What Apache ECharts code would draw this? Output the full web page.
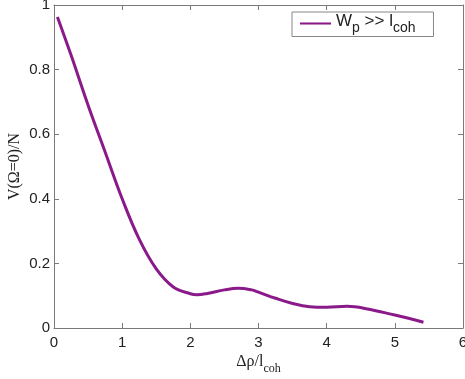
<!DOCTYPE html>
<html>
<head>
<meta charset="utf-8">
<script src="https://cdn.jsdelivr.net/npm/echarts@6/dist/echarts.min.js"></script>
<style>html,body{margin:0;padding:0;background:#fff;}#c{width:465px;height:379px;}</style>
</head>
<body>
<div id="c"></div>
<script>
const xValues = [0.05,0.25,0.5,0.75,1.0,1.25,1.5,1.75,2.0,2.1,2.25,2.5,2.7,2.9,3.0,3.25,3.5,3.75,4.0,4.3,4.6,5.0,5.2,5.42];
const yValues = [0.963,0.845,0.69,0.545,0.40,0.275,0.183,0.127,0.106,0.103,0.107,0.118,0.123,0.118,0.111,0.092,0.076,0.066,0.064,0.067,0.059,0.040,0.030,0.018];
const seriesName = 'Wp >> lcoh';
const xTicks = [0,1,2,3,4,5,6];
const yTicks = [0,0.2,0.4,0.6,0.8,1];

const axisGray = '#7a7a7a';
const labelFont = {fontFamily:'Liberation Sans, Arial, sans-serif', fontSize:15, color:'#222'};
const chart = echarts.init(document.getElementById('c'), null, {renderer:'canvas'});
const pts = xValues.map((x,i)=>[x,yValues[i]]);
const baseAxis = {
  axisLine:{show:true,onZero:false,lineStyle:{color:axisGray,width:1}},
  axisTick:{show:true,inside:true,length:5,lineStyle:{color:axisGray}},
  splitLine:{show:false}
};
chart.setOption({
  animation:false,
  grid:{left:54,right:2,top:5,bottom:51,containLabel:false,outerBoundsMode:'none'},
  legend:{
    show:true,
    left:292,top:12,
    orient:'horizontal',
    backgroundColor:'#fff',
    borderColor:'#888',borderWidth:1,borderRadius:0,
    padding:[1,18,1,8],
    itemWidth:31,itemHeight:10,itemGap:8,
    icon:'path://M0,4 L30,4 L30,6 L0,6 Z',
    data:[{name:seriesName,itemStyle:{color:'#8a1a8a'}}],
    formatter:()=>'{a|W}{s|p}{a| >> l}{s|coh}',
    textStyle:{
      rich:{
        a:{fontFamily:'Liberation Sans, Arial, sans-serif',fontSize:17,color:'#222',padding:[0,0,4,0]},
        s:{fontFamily:'Liberation Sans, Arial, sans-serif',fontSize:14,color:'#222',verticalAlign:'bottom',padding:[10,0,0,0]}
      }
    }
  },
  xAxis:[
    Object.assign({}, baseAxis, {
      type:'value',min:xTicks[0],max:xTicks[xTicks.length-1],interval:1,position:'bottom',
      axisLabel:Object.assign({margin:7},labelFont),
      name:'{a|Δρ/l}{s|coh}',nameLocation:'middle',nameGap:21,nameMoveOverlap:false,
      nameTextStyle:{rich:{
        a:{fontFamily:'Liberation Serif, Times New Roman, serif',fontSize:16,color:'#222'},
        s:{fontFamily:'Liberation Serif, Times New Roman, serif',fontSize:12,color:'#222',padding:[14,0,0,0]}
      }}
    }),
    Object.assign({}, baseAxis, {
      type:'value',min:xTicks[0],max:xTicks[xTicks.length-1],interval:1,position:'top',
      axisLabel:{show:false}
    })
  ],
  yAxis:[
    Object.assign({}, baseAxis, {
      type:'value',min:yTicks[0],max:yTicks[yTicks.length-1],interval:0.2,position:'left',
      axisLabel:Object.assign({margin:4,formatter:v=>String(Math.round(v*10)/10)},labelFont),
      name:'V(Ω=0)/N',nameLocation:'middle',nameGap:31,nameRotate:90,nameMoveOverlap:false,
      nameTextStyle:{fontFamily:'Liberation Serif, Times New Roman, serif',fontSize:16,color:'#222'}
    }),
    Object.assign({}, baseAxis, {
      type:'value',min:yTicks[0],max:yTicks[yTicks.length-1],interval:0.2,position:'right',
      axisLabel:{show:false}
    })
  ],
  series:[{
    name:seriesName,type:'line',xAxisIndex:0,yAxisIndex:0,
    data:pts,smooth:0.4,showSymbol:false,symbol:'none',
    lineStyle:{color:'#8a1a8a',width:3},itemStyle:{color:'#8a1a8a'}
  }]
});
</script>
</body>
</html>
